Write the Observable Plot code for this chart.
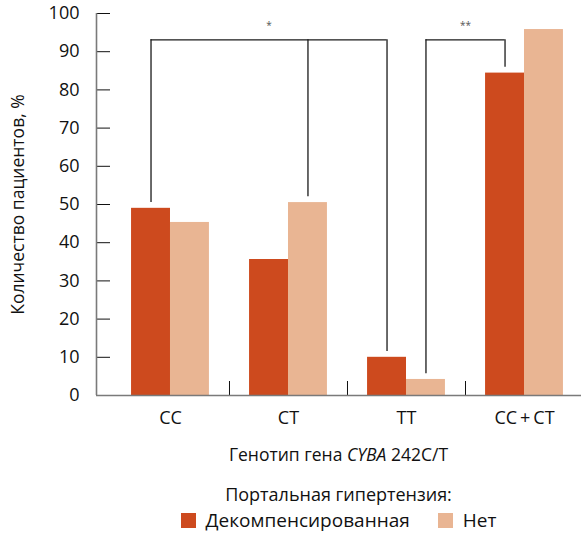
<!DOCTYPE html>
<html><head><meta charset="utf-8">
<script src="https://cdn.jsdelivr.net/npm/d3@7"></script>
<script src="https://cdn.jsdelivr.net/npm/@observablehq/plot@0.6"></script>
<style>
body{margin:0;background:#fff;font-family:"Open Sans",sans-serif;color:#111}
#wrap{width:581px;height:534px;position:relative}
.xtitle{position:absolute;left:96px;width:485px;text-align:center;top:443px;font-size:17.5px;line-height:22px}
.ltitle{position:absolute;left:96px;width:485px;text-align:center;top:483px;font-size:18px;line-height:22px}
.lrow{position:absolute;left:96px;width:485px;top:509px;display:flex;justify-content:center;align-items:center;font-size:19px;line-height:22px}
.sw{width:15px;height:15px;display:inline-block;margin-right:10px}
.item{display:flex;align-items:center}
</style>
</head><body><div id="wrap"></div>
<script>
// ---- data ----
const genotypes = ["CC", "CT", "TT", "CC\u2009+\u2009CT"];
const groups = ["Декомпенсированная", "Нет"];
const decompensated = [49.0, 35.6, 10.0, 84.4];
const none = [45.3, 50.5, 4.2, 95.8];
const yTicks = [0, 10, 20, 30, 40, 50, 60, 70, 80, 90, 100];
const bracketLabels = ["*", "**"];
const bracketLevels = [93.1, 93.1];
// [genotype index, group index]
const bracketBars = [[[0, 0], [1, 1], [2, 0]], [[2, 1], [3, 0]]];
const colors = ["#cd4a1e", "#e9b593"];

// ---- build ----
const series = [decompensated, none];
const BAR = 0.33;           // bar width in band units
const GAP = 1.5;            // gap between bracket drop and bar top (value units)
const xDomain = [-0.627, 3.483];
const center = (gi, g) => gi + (g === 0 ? -BAR / 2 : BAR / 2);

const bars = [];
genotypes.forEach((gt, i) => groups.forEach((grp, g) => bars.push({i, g, grp, value: series[g][i]})));

const drops = [], spans = [], labels = [];
bracketBars.forEach((list, b) => {
  const lvl = bracketLevels[b];
  list.forEach(([i, g]) => drops.push({x: center(i, g), y1: series[g][i] + GAP, y2: lvl}));
  const xs = list.map(([i, g]) => center(i, g));
  spans.push({x1: d3.min(xs), x2: d3.max(xs), y: lvl});
  labels.push({x: (d3.min(xs) + d3.max(xs)) / 2, y: lvl, text: bracketLabels[b]});
});

const chart = Plot.plot({
  width: 581, height: 432,
  marginLeft: 96, marginRight: 0, marginTop: 13, marginBottom: 37,
  style: {fontFamily: "Open Sans, sans-serif", fontSize: "17px", color: "#111", background: "#fff"},
  x: {type: "linear", domain: xDomain, axis: null},
  y: {domain: [0, 100], axis: null},
  color: {domain: groups, range: colors},
  marks: [
    Plot.rectY(bars, {x1: d => d.i - (d.g === 0 ? BAR : 0), x2: d => d.i + (d.g === 0 ? 0 : BAR), y1: 0, y2: "value", fill: "grp"}),
    Plot.axisY({ticks: yTicks, tickSize: 0, tickPadding: 17, fontSize: 18, fill: "#111"}),
    Plot.axisY({ticks: yTicks, tickSize: 14, dx: 14, tickFormat: () => "", stroke: "#111"}),
    Plot.axisX({ticks: [0, 1, 2, 3], tickFormat: i => genotypes[i], tickSize: 0, tickPadding: 16, fontSize: 18, fill: "#111"}),
    Plot.axisX({ticks: [0.5, 1.5, 2.5], tickSize: 14, dy: -14, tickFormat: () => "", stroke: "#111"}),
    Plot.ruleX([xDomain[0]], {stroke: "#7a7a7a", strokeWidth: 1.6}),
    Plot.ruleY([0], {stroke: "#7a7a7a", strokeWidth: 1.6}),
    Plot.ruleX(drops, {x: "x", y1: "y1", y2: "y2", stroke: "#1a1a1a", strokeWidth: 1.3}),
    Plot.ruleY(spans, {x1: "x1", x2: "x2", y: "y", stroke: "#1a1a1a", strokeWidth: 1.3}),
    Plot.text(labels, {x: "x", y: "y", text: "text", dy: -14, fontSize: 10, fill: "#555"}),
    Plot.text(["Количество пациентов, %"], {frameAnchor: "left", textAnchor: "middle", rotate: -90, dx: -78, fontSize: 17.5, fill: "#111"})
  ]
});

const wrap = document.getElementById("wrap");
wrap.appendChild(chart);
const xt = document.createElement("div");
xt.className = "xtitle";
xt.innerHTML = "Генотип гена <i>CYBA</i> 242C/T";
wrap.appendChild(xt);
const lt = document.createElement("div");
lt.className = "ltitle";
lt.textContent = "Портальная гипертензия:";
wrap.appendChild(lt);
const row = document.createElement("div");
row.className = "lrow";
groups.forEach((g, k) => {
  const it = document.createElement("span");
  it.className = "item";
  if (k > 0) it.style.marginLeft = "28px";
  const sw = document.createElement("span");
  sw.className = "sw";
  sw.style.background = colors[k];
  it.appendChild(sw);
  it.appendChild(document.createTextNode(g));
  row.appendChild(it);
});
wrap.appendChild(row);
</script></body></html>
